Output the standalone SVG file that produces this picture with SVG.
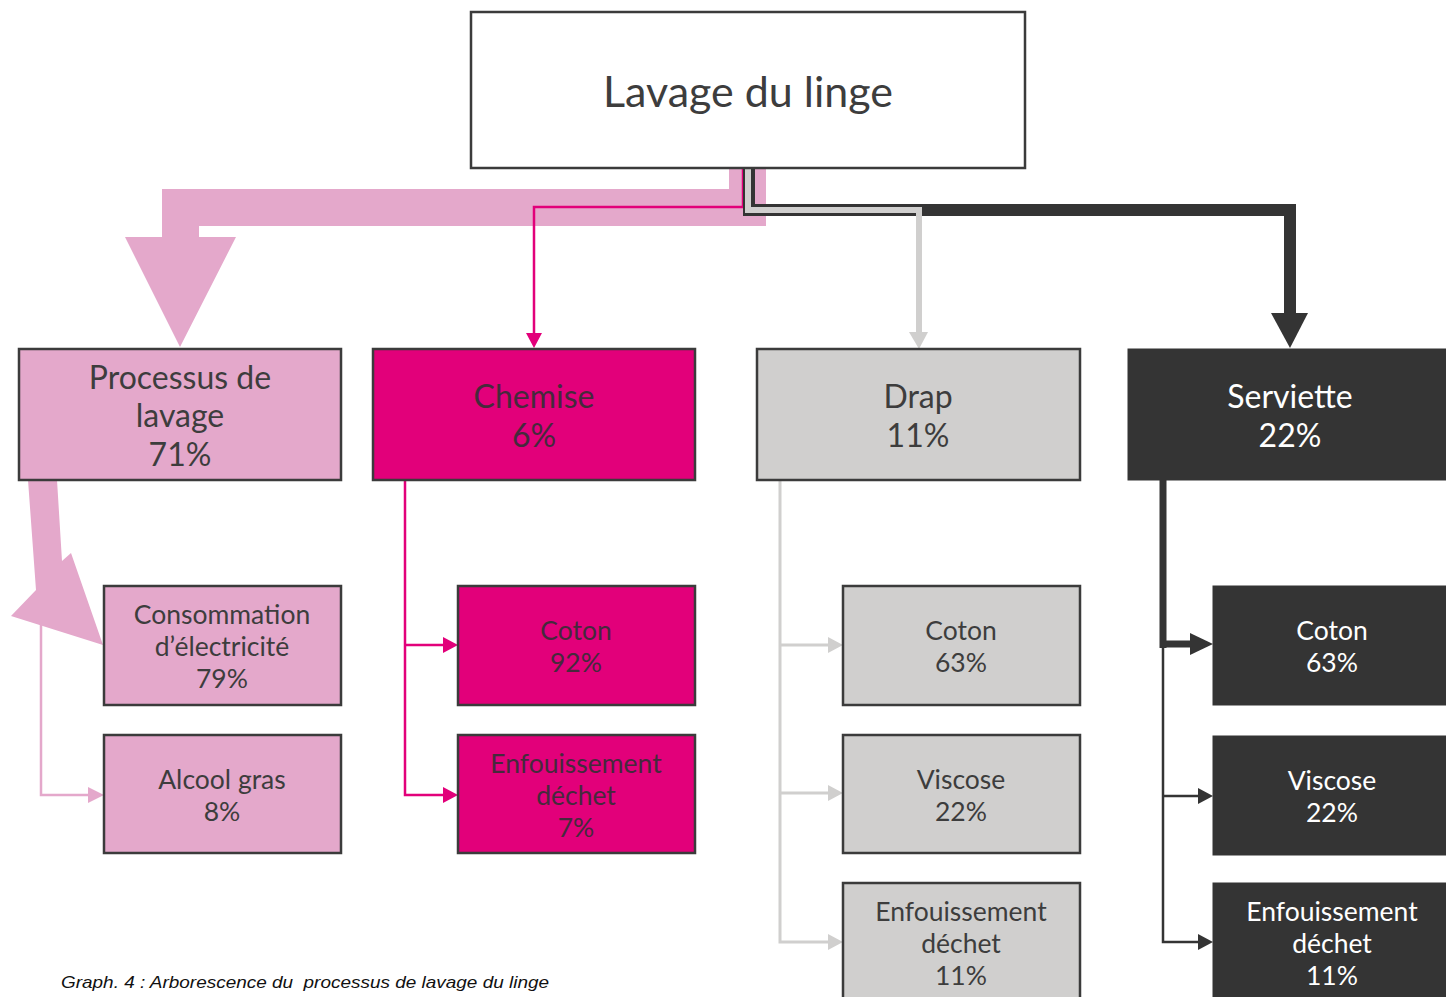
<svg xmlns="http://www.w3.org/2000/svg" width="1446" height="997" viewBox="0 0 1446 997">
  <style>
    .box { stroke: #3b3b3b; stroke-width: 2.5; }
    .white { fill: #ffffff; }
    .pink { fill: #e4a8cb; }
    .mag { fill: #e2007a; }
    .grey { fill: #d0cfce; }
    .dark { fill: #343434; stroke: #343434; }
    text { font-family: Lato, "Open Sans", "Liberation Sans", sans-serif; text-anchor: middle; fill: #3d3d3d; }
    .t0 { font-size: 43px; }
    .t1 { font-size: 32px; }
    .t2 { font-size: 26.5px; }
    .onMag { fill: #452a3c; }
    .onDark { fill: #ffffff; }
    .ln { fill: none; stroke-linejoin: miter; }
    .caption { font-family: "Liberation Sans", Arial, sans-serif; font-style: italic; font-size: 17px; text-anchor: start; fill: #111111; }
  </style>

  <!-- connectors -->
  <g id="connectors">
    <!-- broad pink flow to Processus de lavage -->
    <polygon fill="#e4a8cb" points="729,168 766,168 766,226 199,226 199,237 236,237 180,347 125,237 162,237 162,189 729,189"/>
    <!-- magenta flow to Chemise -->
    <path class="ln" stroke="#e2007a" stroke-width="2.5" d="M743,168 V207 H534 V334"/>
    <polygon fill="#e2007a" points="526,333 542,333 534,348"/>
    <!-- dark flow to Serviette -->
    <path class="ln" stroke="#343434" stroke-width="12" d="M749,168 V210 H1290 V316"/>
    <polygon fill="#343434" points="1271,313 1308,313 1290,348"/>
    <!-- light grey flow to Drap -->
    <path class="ln" stroke="#d0cfce" stroke-width="6" d="M748,168 V210 H919 V334"/>
    <polygon fill="#d0cfce" points="909,332 928,332 919,349"/>

    <!-- Processus de lavage branches -->
    <polygon fill="#e4a8cb" points="28,480 57,480 62,561 71,553 103,645 11,616 36,590"/>
    <path class="ln" stroke="#e4a8cb" stroke-width="2.5" d="M41,620 V795 H89"/>
    <polygon fill="#e4a8cb" points="88,787 104,795 88,803"/>

    <!-- Chemise branches -->
    <path class="ln" stroke="#e2007a" stroke-width="2.5" d="M405,480 V795 H444 M405,645 H444"/>
    <polygon fill="#e2007a" points="443,637 458,645 443,653"/>
    <polygon fill="#e2007a" points="443,787 458,795 443,803"/>

    <!-- Drap branches -->
    <path class="ln" stroke="#d0cfce" stroke-width="3" d="M780,480 V942 H829 M780,645 H829 M780,793 H829"/>
    <polygon fill="#d0cfce" points="828,637 843,645 828,653"/>
    <polygon fill="#d0cfce" points="828,785 843,793 828,801"/>
    <polygon fill="#d0cfce" points="828,934 843,942 828,950"/>

    <!-- Serviette branches -->
    <path class="ln" stroke="#343434" stroke-width="7" d="M1163,480 V648 M1160,644 H1192"/>
    <polygon fill="#343434" points="1190,633 1213,644 1190,655"/>
    <path class="ln" stroke="#343434" stroke-width="2.5" d="M1163,645 V942 H1199 M1163,796 H1199"/>
    <polygon fill="#343434" points="1198,788 1213,796 1198,804"/>
    <polygon fill="#343434" points="1198,934 1213,942 1198,950"/>
  </g>

  <!-- root -->
  <g id="n-lavage">
    <rect class="box white" x="471" y="12" width="554" height="156"/>
    <text class="t0" x="748" y="107">Lavage du linge</text>
  </g>

  <!-- level 1 -->
  <g id="n-processus">
    <rect class="box pink" x="19" y="349" width="322" height="131"/>
    <text class="t1" x="180" y="389">Processus de</text>
    <text class="t1" x="180" y="427">lavage</text>
    <text class="t1" x="180" y="466">71%</text>
  </g>
  <g id="n-chemise">
    <rect class="box mag" x="373" y="349" width="322" height="131"/>
    <text class="t1 onMag" x="534" y="408">Chemise</text>
    <text class="t1 onMag" x="534" y="447">6%</text>
  </g>
  <g id="n-drap">
    <rect class="box grey" x="757" y="349" width="323" height="131"/>
    <text class="t1" x="918" y="408">Drap</text>
    <text class="t1" x="918" y="447">11%</text>
  </g>
  <g id="n-serviette">
    <rect class="dark" x="1128" y="349" width="330" height="131"/>
    <text class="t1 onDark" x="1290" y="408">Serviette</text>
    <text class="t1 onDark" x="1290" y="447">22%</text>
  </g>

  <!-- level 2 : Processus de lavage -->
  <g id="n-electricite">
    <rect class="box pink" x="104" y="586" width="237" height="119"/>
    <text class="t2" x="222" y="624">Consommation</text>
    <text class="t2" x="222" y="656">d’électricité</text>
    <text class="t2" x="222" y="688">79%</text>
  </g>
  <g id="n-alcool">
    <rect class="box pink" x="104" y="735" width="237" height="118"/>
    <text class="t2" x="222" y="789">Alcool gras</text>
    <text class="t2" x="222" y="821">8%</text>
  </g>

  <!-- level 2 : Chemise -->
  <g id="n-chemise-coton">
    <rect class="box mag" x="458" y="586" width="237" height="119"/>
    <text class="t2 onMag" x="576" y="640">Coton</text>
    <text class="t2 onMag" x="576" y="672">92%</text>
  </g>
  <g id="n-chemise-dechet">
    <rect class="box mag" x="458" y="735" width="237" height="118"/>
    <text class="t2 onMag" x="576" y="773">Enfouissement</text>
    <text class="t2 onMag" x="576" y="805">déchet</text>
    <text class="t2 onMag" x="576" y="837">7%</text>
  </g>

  <!-- level 2 : Drap -->
  <g id="n-drap-coton">
    <rect class="box grey" x="843" y="586" width="237" height="119"/>
    <text class="t2" x="961" y="640">Coton</text>
    <text class="t2" x="961" y="672">63%</text>
  </g>
  <g id="n-drap-viscose">
    <rect class="box grey" x="843" y="735" width="237" height="118"/>
    <text class="t2" x="961" y="789">Viscose</text>
    <text class="t2" x="961" y="821">22%</text>
  </g>
  <g id="n-drap-dechet">
    <rect class="box grey" x="843" y="883" width="237" height="130"/>
    <text class="t2" x="961" y="921">Enfouissement</text>
    <text class="t2" x="961" y="953">déchet</text>
    <text class="t2" x="961" y="985">11%</text>
  </g>

  <!-- level 2 : Serviette -->
  <g id="n-serviette-coton">
    <rect class="dark" x="1213" y="586" width="245" height="119"/>
    <text class="t2 onDark" x="1332" y="640">Coton</text>
    <text class="t2 onDark" x="1332" y="672">63%</text>
  </g>
  <g id="n-serviette-viscose">
    <rect class="dark" x="1213" y="736" width="245" height="119"/>
    <text class="t2 onDark" x="1332" y="790">Viscose</text>
    <text class="t2 onDark" x="1332" y="822">22%</text>
  </g>
  <g id="n-serviette-dechet">
    <rect class="dark" x="1213" y="883" width="245" height="130"/>
    <text class="t2 onDark" x="1332" y="921">Enfouissement</text>
    <text class="t2 onDark" x="1332" y="953">déchet</text>
    <text class="t2 onDark" x="1332" y="985">11%</text>
  </g>

  <!-- caption -->
  <text class="caption" x="61" y="988" xml:space="preserve" textLength="488" lengthAdjust="spacingAndGlyphs">Graph. 4 : Arborescence du  processus de lavage du linge</text>
</svg>
